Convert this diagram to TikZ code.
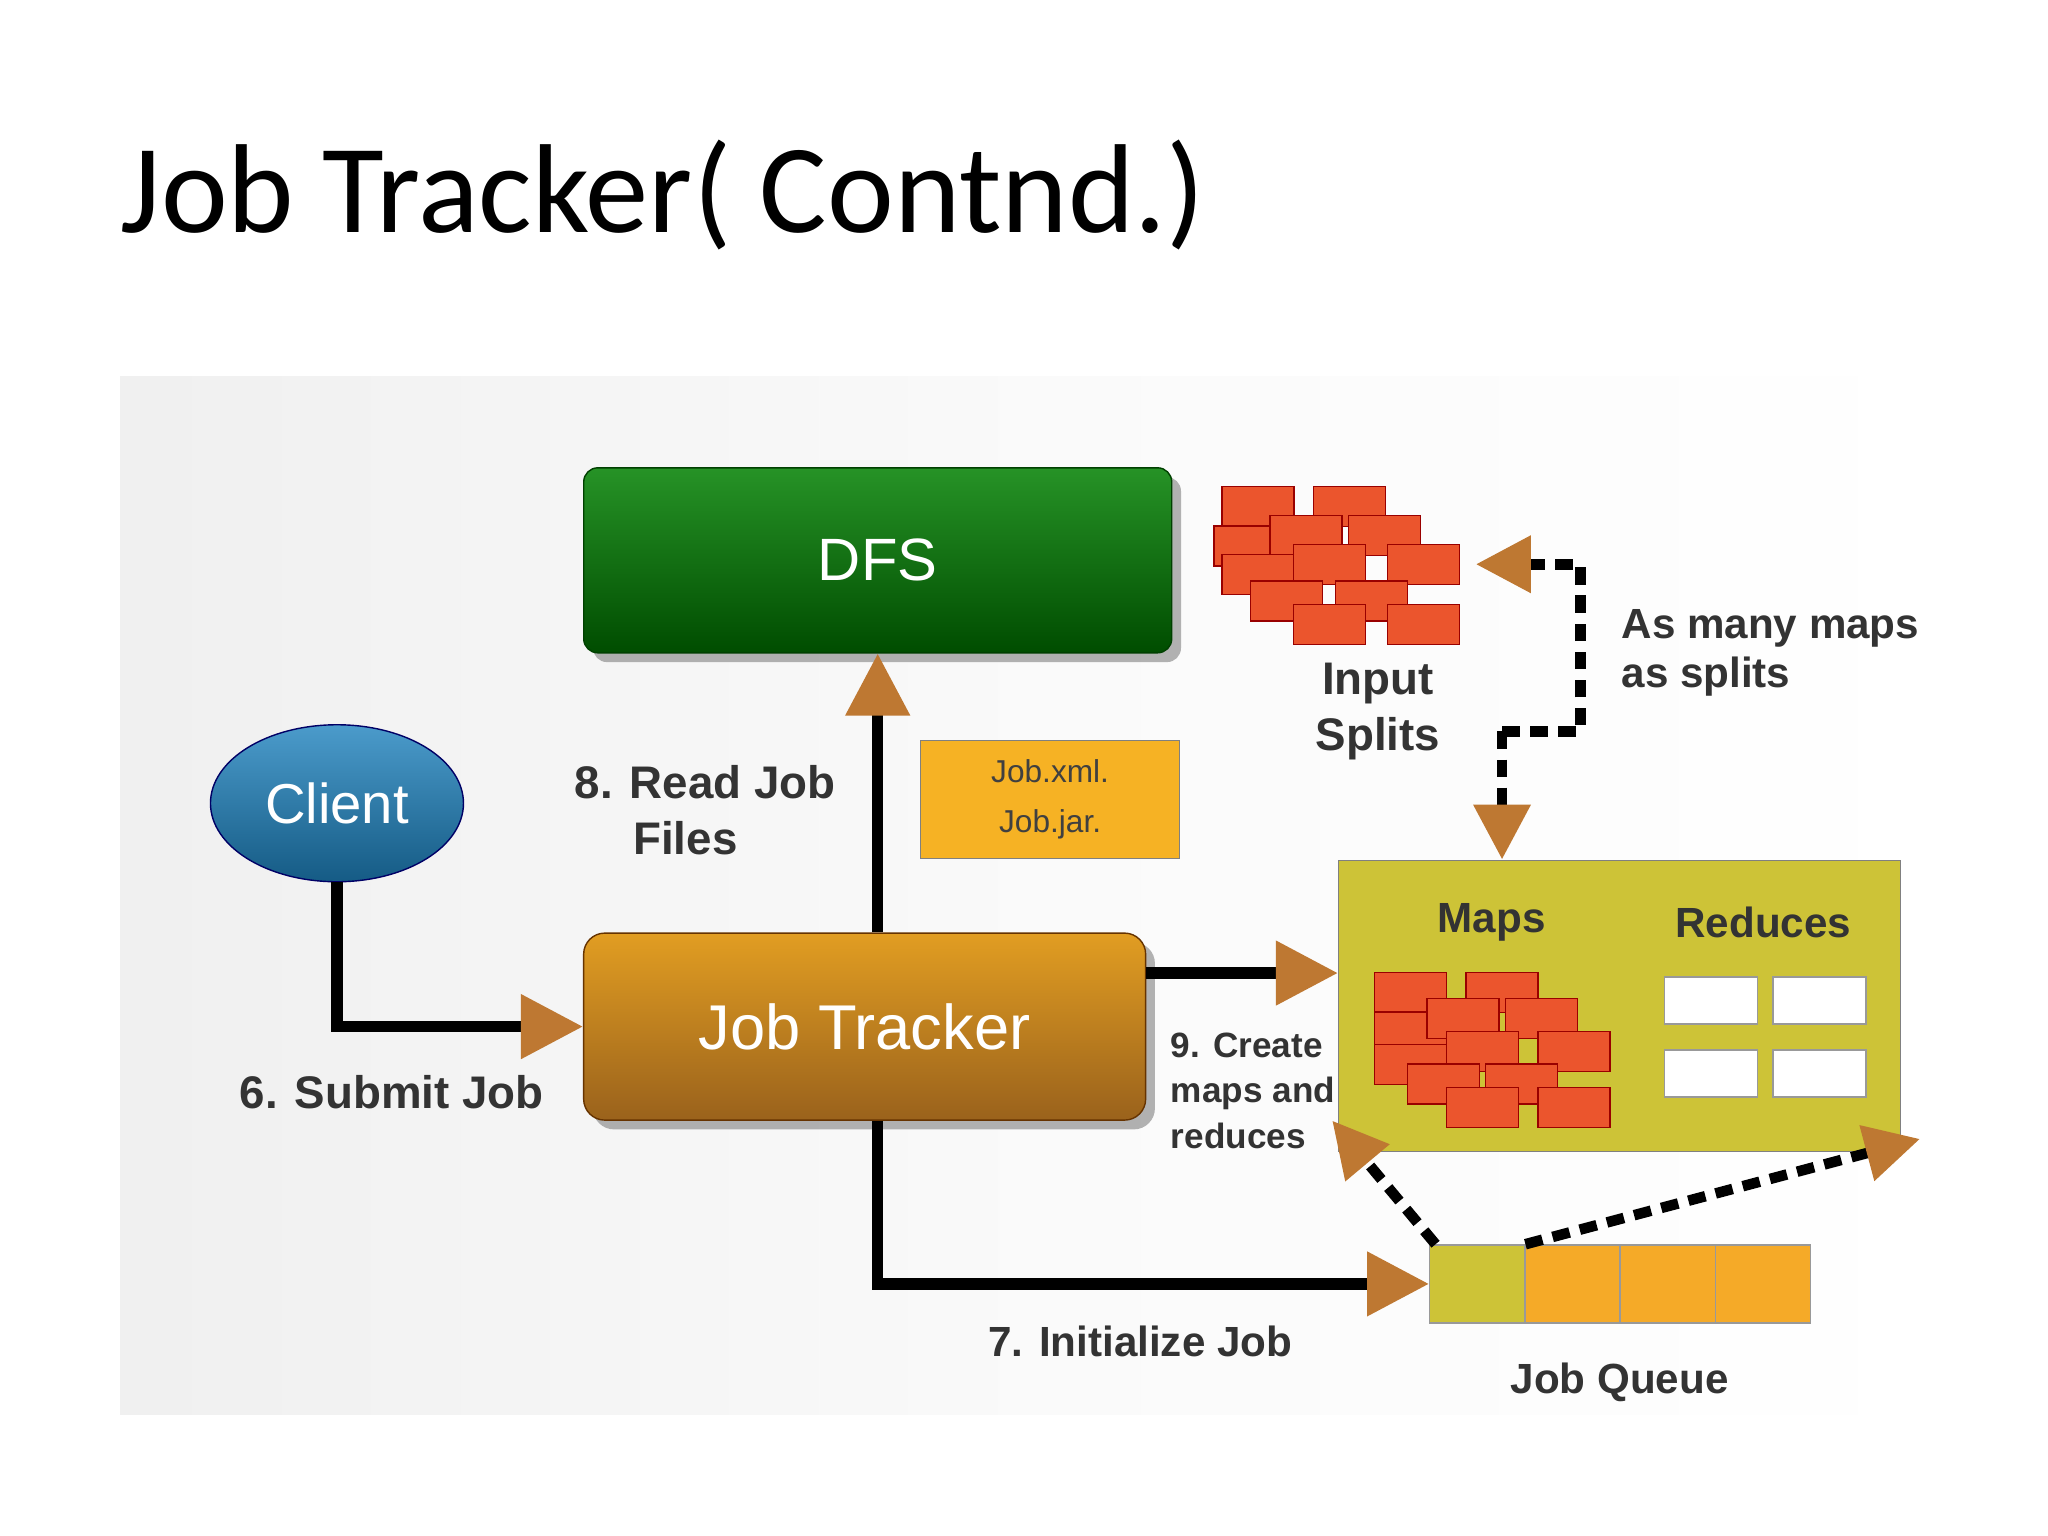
\documentclass[tikz,border=0pt]{standalone}
\usepackage{fontspec}
\setmainfont{Liberation Sans}
\newfontfamily\titlefont{Carlito}
\usetikzlibrary{positioning,arrows.meta,shapes.geometric,shadows}
\definecolor{arrowbrown}{RGB}{190,120,50}
\definecolor{brickred}{RGB}{235,85,45}
\definecolor{olivebox}{RGB}{205,195,55}
\definecolor{queueorange}{RGB}{245,170,40}
\definecolor{jtorange}{RGB}{220,140,40}
\definecolor{clientblue}{RGB}{30,130,190}
\tikzset{
  bigarrow/.style={line width=3.2pt, -{Triangle[length=0.62cm,width=0.62cm,color=arrowbrown]}},
  dasharrow/.style={line width=3pt, dash pattern=on 5pt off 3pt, -{Triangle[length=0.55cm,width=0.55cm,color=arrowbrown]}},
  lbl/.style={font=\fontsize{12}{14}\selectfont\bfseries, text=black!80},
  brick/.style={draw=red!60!black, fill=brickred, minimum width=0.72cm, minimum height=0.4cm, inner sep=0pt},
}
\begin{document}
\begin{tikzpicture}[x=0.01306cm, y=-0.01306cm]
  \useasboundingbox[fill=white] (0,0) rectangle (1568,1176);
  % title
  \node[anchor=base west, inner sep=0pt, font=\titlefont\fontsize{36}{38}\selectfont] (title) at (92,178) {Job Tracker( Contnd.)};
  % panel
  \shade[left color=gray!12, right color=white, middle color=gray!4] (92,288) rectangle (1490,1083);

  \node[draw=green!25!black, rounded corners=4pt, top color=green!50!black!85, bottom color=green!30!black,
        minimum width=5.88cm, minimum height=1.85cm, text=white, font=\fontsize{17}{19}\selectfont,
        drop shadow={opacity=0.6}] (dfs) at (672,429) {DFS};
  \node[ellipse, draw=blue!40!black, top color=clientblue!80!white, bottom color=clientblue!70!black,
        minimum width=2.53cm, minimum height=1.57cm, text=white, font=\fontsize{16}{18}\selectfont] (client) at (258,615) {Client};
  \node[draw=orange!40!black, rounded corners=6pt, top color=jtorange!85!yellow, bottom color=jtorange!70!black,
        minimum width=5.62cm, minimum height=1.87cm, text=white, font=\fontsize{18}{20}\selectfont,
        drop shadow={opacity=0.6}] (jobtracker) at (662,786) {Job Tracker};
  \node[draw=black!50, fill=queueorange!90!yellow, minimum width=2.59cm, minimum height=1.18cm,
        align=center, font=\fontsize{9}{14}\selectfont, text=black!75] (jobfiles) at (804,612) {Job.xml.\\Job.jar.};
  \node[draw=black!50, fill=olivebox, minimum width=5.62cm, minimum height=2.91cm] (tasks) at (1240,770) {};
  % job queue
  \node[draw=black!40, fill=olivebox, minimum width=0.95cm, minimum height=0.78cm, inner sep=0pt] (q1) at (1131,983) {};
  \foreach \i/\x in {2/1204,3/1277,4/1350}
    \node[draw=black!40, fill=queueorange, minimum width=0.95cm, minimum height=0.78cm, inner sep=0pt] (q\i) at (\x,983) {};

  % input splits bricks
  \foreach \x/\y in {963/388,1033/388,957/418,1000/410,1060/410,963/440,1018/432,1090/432,985/460,1050/460,1018/478,1090/478}
    \node[brick] at (\x,\y) {};
  % map bricks
  \foreach \x/\y in {1080/760,1150/760,1080/790,1120/780,1180/780,1080/815,1135/805,1205/805,1105/830,1165/830,1135/848,1205/848}
    \node[brick] at (\x,\y) {};
  % reduce boxes
  \foreach \x/\y in {1310/766,1393/766,1310/822,1393/822}
    \node[draw=black!40, fill=white, minimum width=0.93cm, minimum height=0.47cm, inner sep=0pt] at (\x,\y) {};

  % labels
  \node[lbl, align=center, font=\fontsize{13}{16}\selectfont\bfseries] (splitslbl) at (1055,545) {Input\\Splits};
  \node[lbl, anchor=west, align=left] (manylbl) at (1232,500) {As many maps\\as splits};
  \node[lbl] (mapslbl) at (1142,706) {Maps};
  \node[lbl] (redlbl) at (1350,706) {Reduces};
  \node[lbl, align=left, font=\fontsize{13}{16}\selectfont\bfseries] (readlbl) at (540,620) {8. Read Job\\\quad\ Files};
  \node[lbl, font=\fontsize{13}{15}\selectfont\bfseries] (submitlbl) at (300,836) {6. Submit Job};
  \node[lbl, anchor=west, align=left, font=\fontsize{10}{13}\selectfont\bfseries] (createlbl) at (887,835) {9. Create\\maps and\\reduces};
  \node[lbl] (initlbl) at (873,1027) {7. Initialize Job};
  \node[lbl] (queuelbl) at (1240,1058) {Job Queue};

  % connectors
  \draw[bigarrow] (client.south) |- (jobtracker.west);
  \draw[bigarrow] (jobtracker.north -| dfs.south) -- (dfs.south);
  \draw[bigarrow] (jobtracker.east |- 0,745) -- (tasks.west |- 0,745);
  \draw[bigarrow] (jobtracker.south -| dfs.south) |- (q1.west);
  \coordinate (d1) at (1150,560);
  \coordinate (d2) at (1210,560);
  \coordinate (d3) at (1210,432);
  \coordinate (d4) at (1130,432);
  \draw[dasharrow] (d1) -- (d2) -- (d3) -- (d4);
  \draw[dasharrow] (d1) -- (tasks.north -| d1);
  \draw[dasharrow] (q1.north west) ++(5,0) coordinate (qa) -- (1020,858);
  \draw[dasharrow] (q1.north east) -- (1470,872);
\end{tikzpicture}
\end{document}
